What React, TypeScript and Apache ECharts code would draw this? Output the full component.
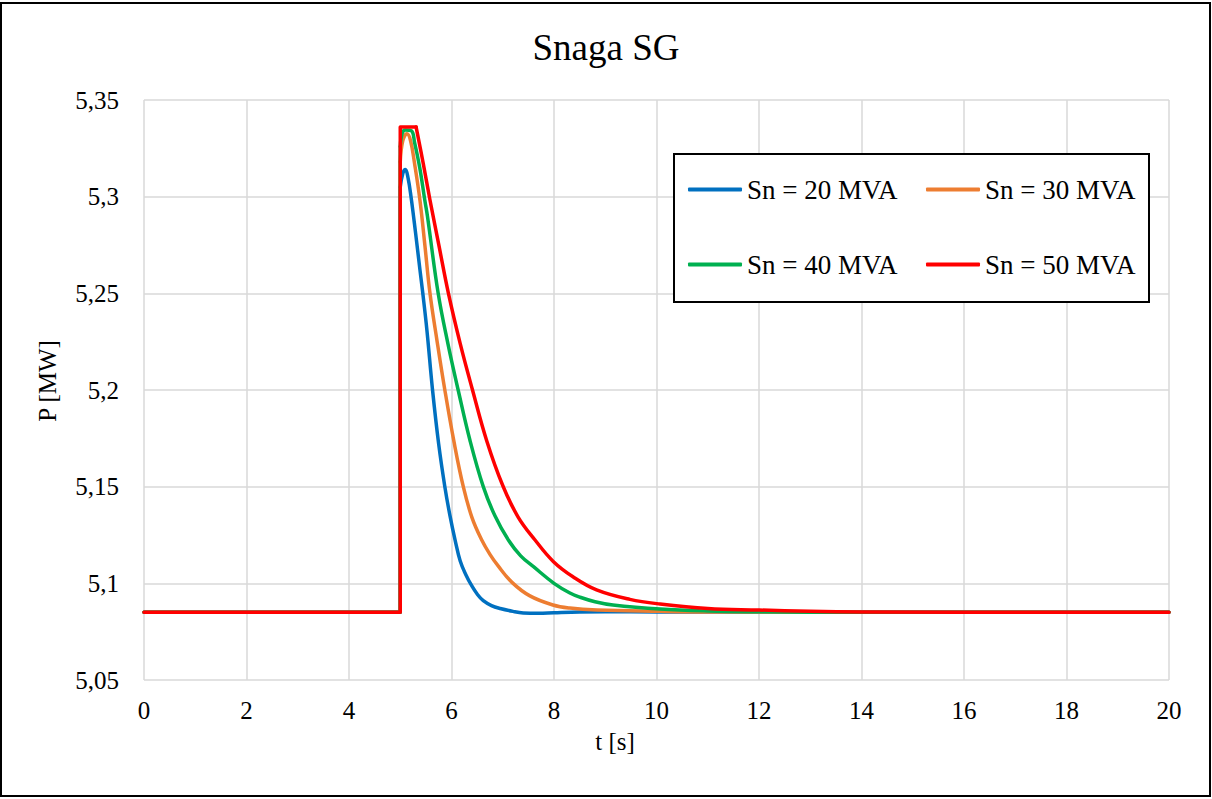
import React, { useEffect, useRef } from "react";
import * as echarts from "echarts";

const seriesNames = ["Sn = 20 MVA", "Sn = 30 MVA", "Sn = 40 MVA", "Sn = 50 MVA"];
const seriesColors = ["#0070C0", "#ED7D31", "#00B050", "#FF0000"];

const xTickLabels = ["0", "2", "4", "6", "8", "10", "12", "14", "16", "18", "20"];
const yTickLabels = ["5,05", "5,1", "5,15", "5,2", "5,25", "5,3", "5,35"];

// Step part (straight segments): steady state, switching at t = 5 s
const sn20Step: number[][] = [[0, 5.085], [5, 5.085], [5, 5.305]];
const sn30Step: number[][] = [[0, 5.085], [5, 5.085], [5, 5.318]];
const sn40Step: number[][] = [[0, 5.085], [5, 5.085], [5, 5.326]];
const sn50Step: number[][] = [[0, 5.085], [5, 5.085], [5, 5.336], [5.31, 5.336]];

// Transient part (smooth)
const sn20: number[][] = [
  [5, 5.305], [5.05, 5.312], [5.1, 5.314], [5.15, 5.31],
  [5.21, 5.3], [5.3, 5.281], [5.385, 5.262], [5.44, 5.25], [5.52, 5.231], [5.63, 5.2],
  [5.75, 5.172], [5.87, 5.15], [5.97, 5.135], [6.07, 5.1224], [6.17, 5.1115],
  [6.28, 5.1045], [6.4, 5.0985], [6.5, 5.0945], [6.62, 5.091], [6.78, 5.0885], [6.95, 5.087],
  [7.2, 5.0855], [7.4, 5.0847], [7.7, 5.0845], [8.0, 5.0848], [8.5, 5.0852], [9, 5.0853],
  [10, 5.0852], [20, 5.085],
];

const sn30: number[][] = [
  [5, 5.318], [5.05, 5.329], [5.13, 5.3325], [5.2, 5.329],
  [5.28, 5.317], [5.385, 5.298], [5.48, 5.275], [5.58, 5.25], [5.72, 5.225], [5.87, 5.2],
  [6.05, 5.173], [6.23, 5.15], [6.4, 5.134], [6.59, 5.1224], [6.75, 5.115], [6.91, 5.109],
  [7.18, 5.1005], [7.53, 5.0935], [7.98, 5.0888], [8.31, 5.0872], [8.84, 5.0862],
  [10.07, 5.0855], [11, 5.0852], [20, 5.085],
];

const sn40: number[][] = [
  [5, 5.326], [5.04, 5.333], [5.1, 5.3345], [5.22, 5.334],
  [5.28, 5.328], [5.38, 5.315], [5.48, 5.298], [5.53, 5.29], [5.74, 5.25], [5.93, 5.224],
  [6.13, 5.2], [6.36, 5.174], [6.62, 5.15], [6.85, 5.1348], [7.11, 5.1224], [7.35, 5.1142],
  [7.6, 5.1086], [8.0, 5.1], [8.31, 5.095], [8.51, 5.0928], [8.8, 5.0905], [9.15, 5.0888],
  [10.07, 5.0867], [11, 5.0857], [12, 5.0853], [14, 5.085], [20, 5.085],
];

const sn50: number[][] = [
  [5.31, 5.336], [5.45, 5.317], [5.58, 5.2983],
  [5.76, 5.274], [5.94, 5.25], [6.17, 5.224], [6.41, 5.2], [6.69, 5.1735], [7.0, 5.1506],
  [7.3, 5.1343], [7.63, 5.1224], [7.99, 5.1112], [8.37, 5.1034], [8.83, 5.0966],
  [9.48, 5.0917], [10.07, 5.0893], [11, 5.087], [12, 5.0862], [13, 5.0855], [14, 5.0852],
  [20, 5.085],
];

const stepSeries = [sn20Step, sn30Step, sn40Step, sn50Step];
const transientSeries = [sn20, sn30, sn40, sn50];

const FONT = "'Liberation Serif', 'Times New Roman', serif";

export default function App() {
  const ref = useRef<HTMLDivElement>(null);

  useEffect(() => {
    if (!ref.current) return;
    const chart = echarts.init(ref.current, null, { renderer: "svg" });

    const legendPos = [
      { left: 688, top: 176 },
      { left: 926, top: 176 },
      { left: 688, top: 251 },
      { left: 926, top: 251 },
    ];

    const series: any[] = [];
    seriesNames.forEach((n, i) => {
      series.push({
        name: n,
        type: "line",
        data: stepSeries[i],
        showSymbol: false,
        symbol: "none",
        smooth: false,
        lineStyle: { color: seriesColors[i], width: 3.5, cap: "round", join: "round" },
        itemStyle: { color: seriesColors[i] },
        z: 2 + i,
      });
      series.push({
        name: n,
        type: "line",
        data: transientSeries[i],
        showSymbol: false,
        symbol: "none",
        smooth: 0.4,
        lineStyle: { color: seriesColors[i], width: 3.5, cap: "round", join: "round" },
        itemStyle: { color: seriesColors[i] },
        z: 2 + i,
      });
    });

    chart.setOption({
      animation: false,
      backgroundColor: "#ffffff",
      title: {
        text: "Snaga SG",
        left: "center",
        top: 24,
        textStyle: { fontFamily: FONT, fontSize: 37, fontWeight: "normal", color: "#000" },
      },
      grid: { left: 144, right: 43, top: 100, bottom: 119, containLabel: false },
      xAxis: {
        type: "value",
        min: 0,
        max: 20,
        interval: 2,
        axisLine: { show: false },
        axisTick: { show: false },
        splitLine: { show: true, lineStyle: { color: "#d9d9d9", width: 1.5 } },
        axisLabel: {
          margin: 18,
          fontFamily: FONT,
          fontSize: 25,
          color: "#000",
          formatter: (v: number) => xTickLabels[Math.round(v / 2)] ?? "",
        },
      },
      yAxis: {
        type: "value",
        min: 5.05,
        max: 5.35,
        interval: 0.05,
        axisLine: { show: false },
        axisTick: { show: false },
        splitLine: { show: true, lineStyle: { color: "#d9d9d9", width: 1.5 } },
        axisLabel: {
          margin: 25,
          fontFamily: FONT,
          fontSize: 25,
          color: "#000",
          formatter: (v: number) => yTickLabels[Math.round((v - 5.05) / 0.05)] ?? "",
        },
      },
      legend: seriesNames.map((n, i) => ({
        data: [n],
        left: legendPos[i].left,
        top: legendPos[i].top,
        padding: 0,
        z: 20,
        icon: "roundRect",
        itemWidth: 54,
        itemHeight: 4,
        textStyle: { fontFamily: FONT, fontSize: 27, color: "#000" },
      })),
      series,
      graphic: [
        {
          type: "rect",
          shape: { x: 1, y: 3, width: 1209, height: 793 },
          style: { fill: "none", stroke: "#000", lineWidth: 2 },
          silent: true,
          z: 0,
        },
        {
          type: "rect",
          shape: { x: 674, y: 154, width: 475, height: 148 },
          style: { fill: "#fff", stroke: "#000", lineWidth: 2 },
          silent: true,
          z: 8,
        },
        {
          type: "text",
          x: 615,
          y: 741,
          style: {
            text: "t [s]",
            font: `25px ${FONT}`,
            fill: "#000",
            textAlign: "center",
            textVerticalAlign: "middle",
          },
          z: 10,
        },
        {
          type: "text",
          x: 47,
          y: 381,
          rotation: Math.PI / 2,
          style: {
            text: "P [MW]",
            font: `25px ${FONT}`,
            fill: "#000",
            textAlign: "center",
            textVerticalAlign: "middle",
          },
          z: 10,
        },
      ],
    });

    return () => chart.dispose();
  }, []);

  return (
    <div
      ref={ref}
      style={{ position: "fixed", left: 0, top: 0, width: 1212, height: 799, background: "#fff" }}
    />
  );
}
